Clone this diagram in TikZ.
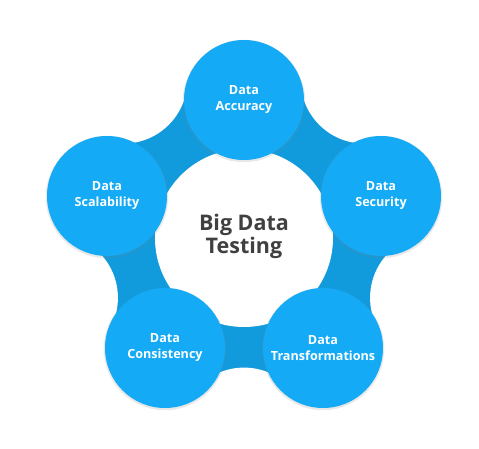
\documentclass[tikz,border=0pt]{standalone}
\usepackage{fontspec}
\setmainfont{Open Sans}
\usetikzlibrary{calc,shadows}
\definecolor{ringblue}{HTML}{119BDD}
\definecolor{bubbleblue}{HTML}{14AAF5}
\definecolor{hubgray}{HTML}{404040}
\begin{document}
\begin{tikzpicture}[x=1pt, y=1pt,
    bubble/.style={circle, fill=bubbleblue, minimum size=120pt, inner sep=0pt,
        align=center, text=white, font=\bfseries\fontsize{12.6}{16}\selectfont,
        drop shadow={opacity=0.18, shadow xshift=0pt, shadow yshift=-1pt, shadow scale=1.02}},
    gap/.style={circle, fill=white, minimum size=128pt, inner sep=0pt}]
    \useasboundingbox (0,0) rectangle (479,448);
    \coordinate (mid) at (244,210);
    \coordinate (pa) at (244,348);
    \coordinate (pb) at (381,252);
    \coordinate (pc) at (323,100);
    \coordinate (pd) at (165,100);
    \coordinate (pe) at (107,252);
    % ring behind the bubbles
    \fill[ringblue] (mid) circle (160);
    \foreach \u/\v in {pa/pb, pb/pc, pc/pd, pd/pe, pe/pa}
        \node[gap] at ($(mid)!1.76!($(\u)!0.5!(\v)$)$) {};
    \fill[white] (mid) circle (89);
    % bubbles
    \node[bubble] (accuracy) at (pa) {Data\\Accuracy};
    \node[bubble] (security) at (pb) {Data\\Security};
    \node[bubble] (transform) at (pc) {Data\\Transformations};
    \node[bubble] (consist) at (pd) {Data\\Consistency};
    \node[bubble] (scalab) at (pe) {Data\\Scalability};
    \node[text=hubgray, align=center, font=\bfseries\fontsize{21.5}{23}\selectfont] (title) at (244,212) {Big Data\\Testing};
\end{tikzpicture}
\end{document}
